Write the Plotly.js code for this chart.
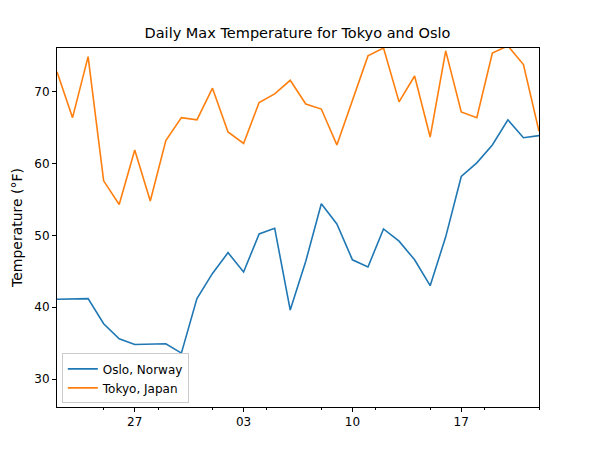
<!DOCTYPE html>
<html>
<head>
<meta charset="utf-8">
<script src="https://cdn.plot.ly/plotly-3.0.1.min.js"></script>
<style>body{margin:0;background:#fff}</style>
</head>
<body>
<div id="chart" style="width:595px;height:472px"></div>
<script>
// one reading per day, 22 Dec 2021 .. 22 Jan 2022
var startDate = new Date(Date.UTC(2021, 11, 22));
var osloTemps = [41.1, 41.2, 41.2, 37.7, 35.6, 34.8, 34.8, 34.9, 33.6, 41.2, 44.7, 47.6, 44.9, 50.2, 51.0, 39.6,
    46.4, 54.4, 51.6, 46.6, 45.6, 50.9, 49.2, 46.6, 43.0, 49.8, 58.2, 60.1, 62.6, 66.1, 63.6, 63.9];
var tokyoTemps = [72.8, 66.4, 74.9, 57.6, 54.3, 61.9, 54.8, 63.2, 66.4, 66.1, 70.5, 64.4, 62.8, 68.5, 69.7, 71.6,
    68.3, 67.6, 62.6, 68.9, 75.0, 76.1, 68.6, 72.2, 63.7, 75.7, 67.2, 66.4, 75.4, 76.4, 73.8, 64.5];
var tickDates = ["2021-12-27", "2022-01-03", "2022-01-10", "2022-01-17"];
var tickLabels = ["27", "03", "10", "17"];

var days = [];
for (var i = 0; i < osloTemps.length; i++) {
    var d = new Date(startDate.getTime() + i * 86400000);
    days.push(d.toISOString().slice(0, 10));
}

var axisStyle = {
    showline: true, mirror: true, linecolor: "#000", linewidth: 1,
    ticks: "outside", ticklen: 4, tickcolor: "#000", showgrid: false, zeroline: false
};

Plotly.newPlot("chart", [{
    x: days, y: osloTemps, mode: "lines", name: "Oslo, Norway",
    line: {color: "#1f77b4", width: 1.6}
}, {
    x: days, y: tokyoTemps, mode: "lines", name: "Tokyo, Japan",
    line: {color: "#ff7f0e", width: 1.6}
}], {
    width: 595, height: 472,
    margin: {l: 57, r: 56, t: 48, b: 65},
    font: {family: "DejaVu Sans", size: 12, color: "#000"},
    title: {text: "Daily Max Temperature for Tokyo and Oslo", font: {size: 14.5}, y: 0.93, yanchor: "middle"},
    xaxis: Object.assign({}, axisStyle, {
        type: "date", range: [days[0], days[days.length - 1]],
        tickvals: tickDates, ticktext: tickLabels,
        minor: {dtick: 86400000 * 3.5, ticks: "outside", ticklen: 2, tickcolor: "#000"}
    }),
    yaxis: Object.assign({}, axisStyle, {
        range: [26.1, 76.1], dtick: 10,
        title: {text: "Temperature (°F)", standoff: 8}
    }),
    legend: {x: 0.01, y: 0.01, xanchor: "left", yanchor: "bottom",
        bordercolor: "#ccc", borderwidth: 1, bgcolor: "rgba(255,255,255,0.8)", font: {size: 12}},
    plot_bgcolor: "#fff", paper_bgcolor: "#fff"
}, {displayModeBar: false});
</script>
</body>
</html>
